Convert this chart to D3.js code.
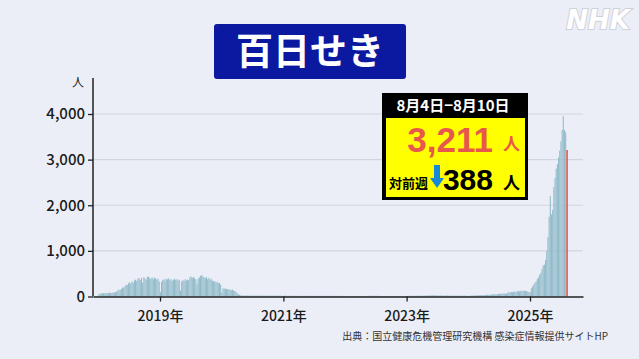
<!DOCTYPE html>
<html>
<head>
<meta charset="utf-8">
<script src="https://cdn.jsdelivr.net/npm/d3@7"></script>
<style>
  html, body { margin: 0; padding: 0; background: #eceef7; }
  svg { display: block; font-family: "Noto Sans CJK JP", "Noto Sans", sans-serif; }
</style>
</head>
<body>
<div id="chart"></div>
<script>
// weekly reported cases (ISO weeks)
const cases2018 = [55, 60, 70, 65, 75, 70, 80, 75, 70, 85, 80, 75, 90, 85, 95, 110, 130, 150, 140, 170,
    200, 190, 230, 260, 250, 290, 310, 280, 330, 300, 350, 370, 340, 390, 400, 360, 410, 300, 420, 400,
    370, 430, 440, 400, 390, 420, 380, 410, 400, 370, 390, 330];
const cases2019 = [100, 320, 360, 380, 350, 390, 370, 400, 360, 380, 340, 370, 390, 360, 380, 350, 370,
    130, 330, 360, 340, 380, 350, 370, 360, 420, 440, 410, 430, 400, 380, 280, 390, 420, 450, 470, 440,
    420, 400, 430, 380, 410, 370, 390, 350, 330, 340, 310, 320, 290, 300, 260];
const cases2020 = [90, 180, 170, 175, 160, 165, 150, 155, 140, 150, 130, 120, 100, 70, 50, 35, 25,
    22, 20, 18, 22, 19, 21, 17, 20, 18, 22, 19, 17, 20, 18, 21, 19, 17, 20, 18, 16, 19, 17, 20, 18,
    16, 19, 17, 18, 16, 19, 17, 15, 18, 16, 14, 12];
const cases2021 = [20, 18, 15, 17, 14, 16, 15, 13, 15, 14, 12, 16, 14, 13, 15, 12, 14, 13, 15, 16, 14,
    12, 15, 13, 14, 16, 12, 15, 13, 14, 12, 15, 13, 14, 12, 13, 15, 14, 12, 13, 15, 14, 16, 13, 12, 14,
    15, 13, 14, 12, 10, 8];
const cases2022 = [9, 10, 12, 11, 9, 10, 12, 10, 11, 9, 12, 10, 11, 13, 10, 12, 11, 9, 12, 13, 15, 14,
    16, 15, 17, 14, 16, 13, 12, 11, 10, 12, 9, 11, 10, 12, 11, 10, 9, 11, 12, 10, 11, 9, 10, 12, 11, 10,
    9, 11, 10, 8];
const cases2023 = [12, 14, 15, 13, 16, 14, 15, 17, 16, 18, 15, 17, 16, 18, 20, 19, 22, 24, 21, 25, 23,
    26, 24, 28, 25, 22, 24, 20, 23, 21, 19, 22, 20, 18, 21, 19, 17, 20, 18, 19, 17, 20, 18, 16, 19, 17,
    18, 20, 19, 17, 15, 12];
const cases2024 = [15, 18, 20, 22, 18, 25, 22, 28, 25, 30, 28, 32, 30, 35, 30, 38, 40, 36, 42, 45, 40,
    48, 50, 45, 52, 55, 60, 58, 65, 62, 70, 55, 68, 85, 90, 95, 100, 92, 105, 110, 100, 115, 120, 110,
    125, 118, 130, 120, 128, 115, 110, 100];
const cases2025 = [90, 180, 220, 260, 300, 330, 380, 420, 480, 520, 600, 680, 700, 800, 1000, 1300, 1750,
    2200, 1800, 1900, 2400, 2600, 2800, 2900, 3050, 3200, 3400, 3650, 3950, 3650, 3599, 3211];

const yTicks = [0, 1000, 2000, 3000, 4000];
const xTickYears = [2019, 2021, 2023, 2025];

const title = '百日せき';
const boxPeriod = '8月4日−8月10日';
const boxLatest = '3,211';
const boxDiff = '388';

const allCases = [].concat(cases2018, cases2019, cases2020, cases2021, cases2022, cases2023, cases2024, cases2025);
const firstWeek = new Date(2018, 0, 1);
const DAY = 24 * 3600 * 1000;
const data = allCases.map((v, i) => ({
    start: new Date(firstWeek.getTime() + i * 7 * DAY),
    end: new Date(firstWeek.getTime() + (i + 1) * 7 * DAY),
    value: v
}));

const width = 639, height = 359;

const svg = d3.select('#chart')
    .append('svg')
    .attr('width', width)
    .attr('height', height);

svg.append('rect')
    .attr('width', width)
    .attr('height', height)
    .attr('fill', '#eceef7');

// x scale: 2019 -> 160, 2025 -> 530
const xBase = d3.scaleTime()
    .domain([new Date(2019, 0, 1), new Date(2025, 0, 1)])
    .range([160, 530]);
const x = d3.scaleTime()
    .domain([xBase.invert(93), xBase.invert(583)])
    .range([93, 583]);

const y = d3.scaleLinear()
    .domain([0, 4000])
    .range([296.5, 114]);

// gridlines
svg.append('g')
    .selectAll('line')
    .data(yTicks.slice(1))
    .join('line')
    .attr('x1', 93)
    .attr('x2', 583)
    .attr('y1', d => y(d))
    .attr('y2', d => y(d))
    .attr('stroke', '#d3d5de')
    .attr('stroke-width', 1.2);

// bars
const last = data.length - 1;
svg.append('g')
    .selectAll('rect')
    .data(data)
    .join('rect')
    .attr('x', d => x(d.start))
    .attr('width', (d, i) => i === last ? 1.6 : Math.max(0.5, x(d.end) - x(d.start) - 0.08))
    .attr('y', d => y(d.value))
    .attr('height', d => y(0) - y(d.value))
    .attr('fill', (d, i) => i === last ? '#e8574c' : '#93bccb');

// y axis
const yAxis = svg.append('g')
    .attr('transform', 'translate(93,0)')
    .call(d3.axisLeft(y).tickValues(yTicks).tickSize(5).tickSizeOuter(0).tickFormat(d3.format(',')));
yAxis.select('.domain').remove();
yAxis.selectAll('.tick line').attr('stroke', '#222').attr('stroke-width', 1.3);
yAxis.selectAll('.tick text')
    .attr('x', -8)
    .attr('fill', '#1a1a1a')
    .style('font-size', '15px')
    .style('font-weight', '500')
    .style('font-family', '"Noto Sans CJK JP", sans-serif');
svg.append('line')
    .attr('x1', 93).attr('x2', 93)
    .attr('y1', 78).attr('y2', y(0))
    .attr('stroke', '#222')
    .attr('stroke-width', 1.5);
svg.append('text')
    .attr('x', 78)
    .attr('y', 87)
    .attr('text-anchor', 'middle')
    .attr('fill', '#222')
    .style('font-size', '12px')
    .text('人');

// x axis
const xAxis = svg.append('g')
    .attr('transform', `translate(0,${y(0)})`)
    .call(d3.axisBottom(x)
        .tickValues(xTickYears.map(yr => new Date(yr, 0, 1)))
        .tickSize(5)
        .tickSizeOuter(0)
        .tickFormat(d => d.getFullYear() + '年'));
xAxis.select('.domain').attr('stroke', '#222').attr('stroke-width', 1.5);
xAxis.selectAll('.tick line').attr('stroke', '#222').attr('stroke-width', 1.3);
xAxis.selectAll('.tick text')
    .attr('y', 15)
    .attr('fill', '#1a1a1a')
    .style('font-size', '14px')
    .style('font-weight', '500')
    .style('font-family', '"Noto Sans CJK JP", sans-serif');

// title
svg.append('rect')
    .attr('x', 214).attr('y', 24)
    .attr('width', 192).attr('height', 55)
    .attr('rx', 3)
    .attr('fill', '#0b18a0');
svg.append('text')
    .attr('x', 310).attr('y', 65)
    .attr('text-anchor', 'middle')
    .attr('fill', '#fff')
    .style('font-size', '37px')
    .style('font-weight', 'bold')
    .text(title);

// NHK logo
svg.append('text')
    .attr('x', 630).attr('y', 29)
    .attr('text-anchor', 'end')
    .attr('fill', '#fff')
    .attr('stroke', '#cfd1da')
    .attr('stroke-width', 2)
    .attr('paint-order', 'stroke')
    .style('font-family', '"DejaVu Sans", sans-serif')
    .style('font-size', '26px')
    .style('font-weight', 'bold')
    .style('font-style', 'italic')
    .text('NHK');

// info box
const box = svg.append('g');
box.append('rect')
    .attr('x', 382).attr('y', 93)
    .attr('width', 146).attr('height', 107)
    .attr('fill', '#000');
box.append('rect')
    .attr('x', 386).attr('y', 118)
    .attr('width', 139).attr('height', 79)
    .attr('fill', '#ffff00');
box.append('text')
    .attr('x', 453).attr('y', 111)
    .attr('text-anchor', 'middle')
    .attr('fill', '#fff')
    .style('font-size', '15px')
    .style('font-weight', 'bold')
    .text(boxPeriod);
box.append('text')
    .attr('x', 493).attr('y', 152)
    .attr('text-anchor', 'end')
    .attr('fill', '#e8574c')
    .style('font-size', '35px')
    .style('font-weight', 'bold')
    .style('font-family', '"Liberation Sans", sans-serif')
    .text(boxLatest);
box.append('text')
    .attr('x', 503).attr('y', 150)
    .attr('fill', '#e8574c')
    .style('font-size', '17px')
    .style('font-weight', 'bold')
    .text('人');
box.append('text')
    .attr('x', 389).attr('y', 188)
    .attr('fill', '#000')
    .style('font-size', '13px')
    .style('font-weight', 'bold')
    .text('対前週');
// blue down arrow
box.append('path')
    .attr('d', 'M434,165 h6 v13 h4 l-7,10 l-7,-10 h4 z')
    .attr('fill', '#1a88d8');
box.append('text')
    .attr('x', 493).attr('y', 190)
    .attr('text-anchor', 'end')
    .attr('fill', '#000')
    .style('font-size', '30px')
    .style('font-weight', 'bold')
    .style('font-family', '"Liberation Sans", sans-serif')
    .text(boxDiff);
box.append('text')
    .attr('x', 503).attr('y', 189)
    .attr('fill', '#000')
    .style('font-size', '17px')
    .style('font-weight', 'bold')
    .text('人');

// source
svg.append('text')
    .attr('x', 608).attr('y', 340)
    .attr('text-anchor', 'end')
    .attr('fill', '#333')
    .style('font-size', '10px')
    .text('出典：国立健康危機管理研究機構 感染症情報提供サイトHP');
</script>
</body>
</html>
